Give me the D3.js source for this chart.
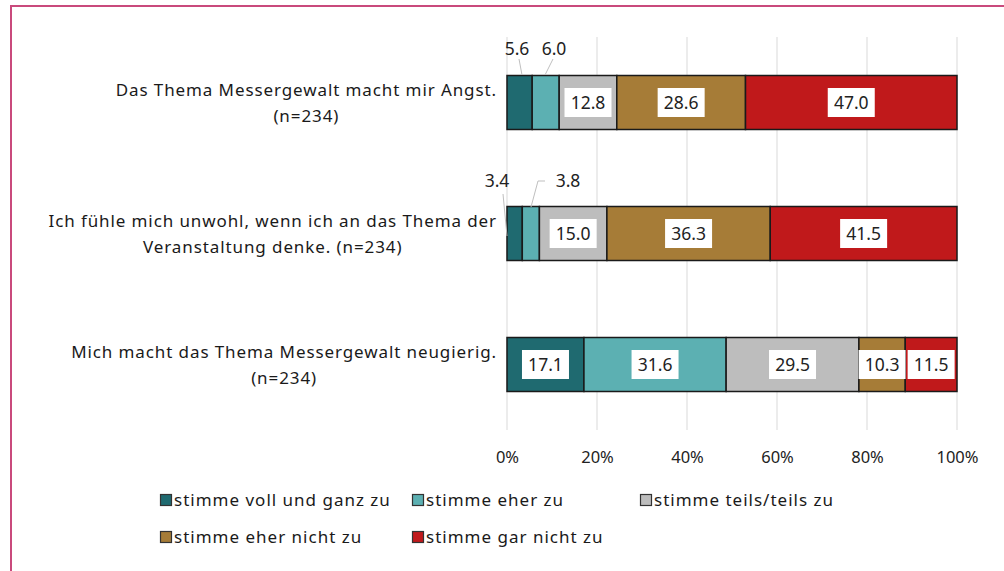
<!DOCTYPE html>
<html>
<head>
<meta charset="utf-8">
<script src="https://cdn.jsdelivr.net/npm/d3@7"></script>
<style>
  body { margin: 0; background: #fff; }
  svg { display: block; }
</style>
</head>
<body>
<div id="chart"></div>
<script>
// categories (two lines each) and answer levels
var questions = [
  ["Das Thema Messergewalt macht mir Angst.", "(n=234)"],
  ["Ich fühle mich unwohl, wenn ich an das Thema der", "Veranstaltung denke. (n=234)"],
  ["Mich macht das Thema Messergewalt neugierig.", "(n=234)"]
];
var levels = ["stimme voll und ganz zu", "stimme eher zu", "stimme teils/teils zu",
  "stimme eher nicht zu", "stimme gar nicht zu"];

// percentages per question, in level order
var angst = [5.6, 6.0, 12.8, 28.6, 47.0];
var unwohl = [3.4, 3.8, 15.0, 36.3, 41.5];
var neugierig = [17.1, 31.6, 29.5, 10.3, 11.5];
var values = [angst, unwohl, neugierig];

var tickValues = [0, 20, 40, 60, 80, 100];

var colors = ["#1f6a70", "#5cb0b2", "#bdbdbd", "#a67c37", "#c0191b"];

var labelFont = "'Noto Sans', sans-serif";

var W = 1004, H = 571;
var svg = d3.select("#chart").append("svg")
  .attr("width", W)
  .attr("height", H);

// frame (top + left edge only)
svg.append("path")
  .attr("d", "M1004,6 H11 V571")
  .attr("fill", "none")
  .attr("stroke", "#c94a7c")
  .attr("stroke-width", 2);

var x = d3.scaleLinear().domain([0, 100]).range([507, 957]);
var y = d3.scalePoint().domain(d3.range(questions.length)).range([37, 430]).padding(0.5);
var barH = 54;

// gridlines
svg.append("g")
  .selectAll("line")
  .data(tickValues)
  .enter().append("line")
  .attr("x1", function (d) { return x(d); })
  .attr("x2", function (d) { return x(d); })
  .attr("y1", 37)
  .attr("y2", 430)
  .attr("stroke", "#d9d9d9")
  .attr("stroke-width", 1);

// x axis labels
var xAxis = d3.axisBottom(x)
  .tickValues(tickValues)
  .tickSize(0)
  .tickPadding(0)
  .tickFormat(function (d) { return d + "%"; });

var gx = svg.append("g")
  .attr("transform", "translate(0,451)")
  .call(xAxis);
gx.select(".domain").remove();
gx.selectAll("text")
  .attr("font-family", labelFont)
  .attr("font-size", 16.5)
  .attr("fill", "#222");

// stacked rows
var rows = values.map(function (vals, i) {
  var acc = 0;
  return vals.map(function (v, j) {
    var s = { row: i, level: j, value: v, x0: acc, x1: acc + v };
    acc += v;
    return s;
  });
});
var segs = d3.merge(rows);

svg.append("g")
  .selectAll("rect")
  .data(segs)
  .enter().append("rect")
  .attr("x", function (d) { return x(d.x0); })
  .attr("y", function (d) { return y(d.row) - barH / 2; })
  .attr("width", function (d) { return x(d.x1) - x(d.x0); })
  .attr("height", barH)
  .attr("fill", function (d) { return colors[d.level]; })
  .attr("stroke", "#1a1a1a")
  .attr("stroke-width", 1.5);

// inside labels on white boxes
var inside = segs.filter(function (d) { return d.value >= 10; });
var lab = svg.append("g")
  .selectAll("g")
  .data(inside)
  .enter().append("g")
  .attr("transform", function (d) {
    return "translate(" + x((d.x0 + d.x1) / 2) + "," + y(d.row) + ")";
  });
lab.append("rect")
  .attr("x", -23.5)
  .attr("y", -14.5)
  .attr("width", 47)
  .attr("height", 29)
  .attr("fill", "#fff");
lab.append("text")
  .attr("text-anchor", "middle")
  .attr("dy", "0.35em")
  .attr("font-family", labelFont)
  .attr("font-size", 17.5)
  .attr("fill", "#222")
  .text(function (d) { return d.value.toFixed(1); });

// small segments: callouts above the bar with leader lines
var callout = [
  { row: 0, level: 0, tx: 517, ty: 49, pts: [[519, 59], [522, 75]] },
  { row: 0, level: 1, tx: 554, ty: 49, pts: [[553, 59], [545, 75]] },
  { row: 1, level: 0, tx: 497, ty: 181, pts: [[503, 194], [507, 236]] },
  { row: 1, level: 1, tx: 568, ty: 181, pts: [[545, 181], [538, 181], [531, 207]] }
];
var small = segs.filter(function (d) { return d.value < 10; });
small.forEach(function (d) {
  var c = callout.filter(function (c) { return c.row == d.row && c.level == d.level; })[0];
  svg.append("path")
    .attr("d", d3.line()(c.pts))
    .attr("fill", "none")
    .attr("stroke", "#bfbfbf")
    .attr("stroke-width", 1);
  svg.append("text")
    .attr("x", c.tx)
    .attr("y", c.ty)
    .attr("dy", "0.35em")
    .attr("text-anchor", "middle")
    .attr("font-family", labelFont)
    .attr("font-size", 17.5)
    .attr("fill", "#222")
    .text(d.value.toFixed(1));
});

// category labels: centred block, right edge next to the axis
questions.forEach(function (q, i) {
  var t = svg.append("text")
    .attr("font-family", labelFont)
    .attr("font-size", 17)
    .attr("letter-spacing", 0.9)
    .attr("fill", "#1a1a1a")
    .attr("text-anchor", "middle");
  var spans = t.selectAll("tspan")
    .data(q)
    .enter().append("tspan")
    .attr("y", function (d, k) { return y(i) - 12 + k * 26; })
    .attr("dy", "0.35em")
    .text(function (d) { return d; });
  var wMax = d3.max(spans.nodes(), function (n) { return n.getComputedTextLength(); });
  spans.attr("x", 497 - wMax / 2);
});

// legend
var legendPos = [[160, 500], [412, 500], [640, 500], [160, 537], [412, 537]];
var lg = svg.append("g")
  .selectAll("g")
  .data(levels)
  .enter().append("g")
  .attr("transform", function (d, i) {
    return "translate(" + legendPos[i][0] + "," + legendPos[i][1] + ")";
  });
lg.append("rect")
  .attr("x", 0.5)
  .attr("y", -5.5)
  .attr("width", 11)
  .attr("height", 11)
  .attr("fill", function (d, i) { return colors[i]; })
  .attr("stroke", "#333")
  .attr("stroke-width", 1.2);
lg.append("text")
  .attr("x", 14)
  .attr("dy", "0.35em")
  .attr("font-family", labelFont)
  .attr("font-size", 17)
  .attr("letter-spacing", 1)
  .attr("fill", "#1a1a1a")
  .text(function (d) { return d; });
</script>
</body>
</html>
